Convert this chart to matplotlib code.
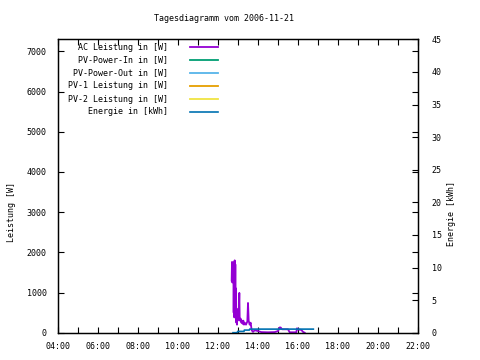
import matplotlib
matplotlib.use("Agg")
import matplotlib.pyplot as plt
from matplotlib.ticker import FixedLocator

title = "Tagesdiagramm vom 2006-11-21"
series_labels = ["AC Leistung in [W]", "PV-Power-In in [W]", "PV-Power-Out in [W]",
                 "PV-1 Leistung in [W]", "PV-2 Leistung in [W]", "Energie in [kWh]"]
series_colors = ["#9400d3", "#009e73", "#56b4e9", "#e69f00", "#f0e442", "#0072b2"]

ac_times = ["12:41", "12:42", "12:43", "12:44", "12:45", "12:46", "12:47", "12:48", "12:49",
            "12:50", "12:51", "12:52", "12:53", "12:54", "12:55", "12:56", "12:57", "12:58",
            "12:59", "13:00", "13:02", "13:04", "13:05", "13:06", "13:08", "13:10", "13:12",
            "13:14", "13:16", "13:18", "13:20", "13:24", "13:28", "13:30", "13:32", "13:35",
            "13:38", "13:41", "13:45", "13:50", "14:00", "14:10", "14:30", "14:50", "15:00",
            "15:05", "15:08", "15:12", "15:30", "15:35", "15:55", "15:57", "16:00", "16:10",
            "16:15", "16:20"]
ac_values = [1300, 1760, 1250, 1700, 1300, 1750, 500, 1400, 380,
             1800, 600, 1700, 450, 1100, 250, 600, 200, 450,
             300, 550, 350, 990, 400, 300, 350, 250, 300,
             220, 300, 200, 250, 200, 280, 740, 300, 200,
             250, 60, 20, 60, 40, 15, 10, 15, 40,
             130, 130, 85, 85, 10, 10, 110, 80, 70,
             20, 0]

pv_in_times, pv_in_values = [], []
pv_out_times, pv_out_values = [], []
pv1_times, pv1_values = [], []
pv2_times, pv2_values = [], []

energy_times = ["12:45", "12:58", "12:59", "13:18", "13:19", "13:34", "13:35", "16:46"]
energy_values = [0.0, 0.0, 0.2, 0.2, 0.4, 0.4, 0.55, 0.55]

xtick_labels = ["04:00", "06:00", "08:00", "10:00", "12:00", "14:00", "16:00", "18:00", "20:00", "22:00"]
left_ticks = [0, 1000, 2000, 3000, 4000, 5000, 6000, 7000]
right_ticks = [0, 5, 10, 15, 20, 25, 30, 35, 40, 45]


def to_h(s):
    h, m = s.split(":")
    return int(h) + int(m) / 60.0


plt.rcParams["font.family"] = "DejaVu Sans Mono"
FS = 6

fig = plt.figure(figsize=(4.8, 3.6), dpi=100)
W, H = 480, 360
ax = fig.add_axes([58 / W, 1 - 332.7 / H, (418 - 58) / W, (332.7 - 39.3) / H])
ax2 = ax.twinx()

handles = []
for lab, col, t, v in [
    (series_labels[0], series_colors[0], ac_times, ac_values),
    (series_labels[1], series_colors[1], pv_in_times, pv_in_values),
    (series_labels[2], series_colors[2], pv_out_times, pv_out_values),
    (series_labels[3], series_colors[3], pv1_times, pv1_values),
    (series_labels[4], series_colors[4], pv2_times, pv2_values),
]:
    ln, = ax.plot([to_h(s) for s in t], v, color=col, lw=1.3, label=lab)
    handles.append(ln)
ln, = ax2.plot([to_h(s) for s in energy_times], energy_values, color=series_colors[5],
               lw=1.2, label=series_labels[5])
handles.append(ln)

xt = [to_h(s) for s in xtick_labels]
ax.set_xlim(xt[0], xt[-1])
ax.set_ylim(0, 7300)
ax2.set_ylim(0, 45)
ax.xaxis.set_major_locator(FixedLocator(xt))
ax.set_xticklabels(xtick_labels)
ax.xaxis.set_minor_locator(FixedLocator([h + 1 for h in xt[:-1]]))
ax.set_yticks(left_ticks)
ax.set_yticklabels([str(v) for v in left_ticks])
ax2.set_yticks(right_ticks)
ax2.set_yticklabels([str(v) for v in right_ticks])

ax.tick_params(axis="both", which="both", direction="in", length=4, width=0.8,
               labelsize=FS, top=True, right=True, pad=8)
ax.tick_params(axis="x", which="both", pad=7)
ax2.tick_params(axis="y", direction="in", length=4, width=0.8, labelsize=FS, pad=10)
for a in (ax, ax2):
    for sp in a.spines.values():
        sp.set_linewidth(0.9)

fig.text(223.5 / W, 1 - 18.3 / H, title, ha="center", va="center", fontsize=FS)
fig.text(11.7 / W, 1 - 212 / H, "Leistung [W]", rotation=90, ha="center", va="center", fontsize=FS)
fig.text(452 / W, 1 - 213 / H, "Energie [kWh]", rotation=90, ha="center", va="center", fontsize=FS)

leg = ax2.legend(handles=handles, loc="upper right", bbox_to_anchor=(218 / W, 1 - 42.5 / H),
                 bbox_transform=fig.transFigure, markerfirst=False, frameon=False,
                 fontsize=FS, handlelength=3.4, handletextpad=2.6, labelspacing=0.48,
                 borderpad=0, borderaxespad=0)

fig.savefig("out.png", dpi=100)
